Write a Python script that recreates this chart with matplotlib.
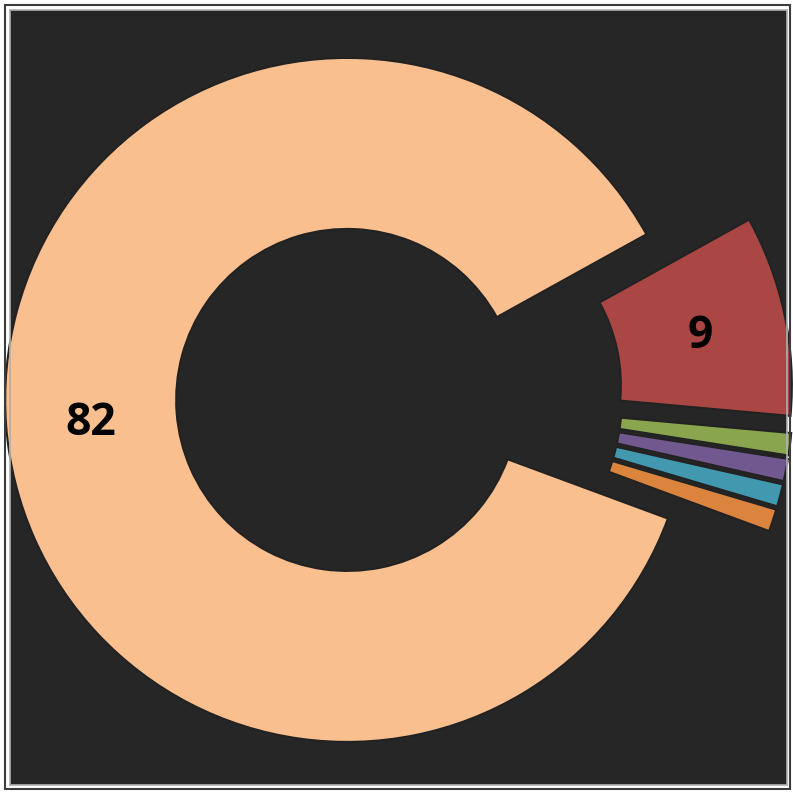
import numpy as np
import matplotlib.pyplot as plt
import matplotlib.transforms as mtransforms
from matplotlib.patches import Rectangle

values = [82, 9, 1, 1, 1, 1]
colors = ['#F9BF8F', '#AA4643', '#89A54E', '#71588F', '#4198AF', '#DB843D']
total = sum(values)

W, H = 793, 792
fig = plt.figure(figsize=(W / 100, H / 100), dpi=100)
fig.patch.set_facecolor('white')

# outer thin border of the figure
fig.patches.append(Rectangle((5 / W, 1 - 789 / H), 785 / W, 784 / H,
                             transform=fig.transFigure, fill=False,
                             edgecolor='#3c3c3c', linewidth=1.5))

# dark panel, px 10..787 (x), 10..785 (y from top)
left, top, right, bottom = 10, 10, 787, 785
ax = fig.add_axes([left / W, 1 - bottom / H, (right - left) / W, (bottom - top) / H])
ax.set_facecolor('#262626')

wedges, texts, autotexts = ax.pie(
    values, colors=colors, startangle=-20.3, counterclock=False,
    explode=[0.152] * len(values), radius=1.0,
    wedgeprops=dict(width=0.5, edgecolor='#222222', linewidth=1.5),
    autopct=lambda p: f'{p * total / 100:.0f}' if p > 5 else '',
    pctdistance=0.75,
    textprops=dict(fontsize=32, fontweight='bold', color='black', family='Open Sans'))

# nudge labels a few pixels to match
for t in autotexts:
    t.set_transform(mtransforms.offset_copy(ax.transData, fig=fig, x=-1, y=-4, units='dots'))

# pie centre at px (399, 396), radius 342 px
cx, cy, R = 399, 396, 342
ax.set_xlim((left - cx) / R, (right - cx) / R)
ax.set_ylim((cy - bottom) / R, (cy - top) / R)
ax.set_aspect('auto')
ax.set_frame_on(True)
for sp in ax.spines.values():
    sp.set_color('#b0b0b0')
    sp.set_linewidth(1.2)
ax.set_xticks([])
ax.set_yticks([])

plt.savefig('out.png', dpi=100, facecolor='white')
